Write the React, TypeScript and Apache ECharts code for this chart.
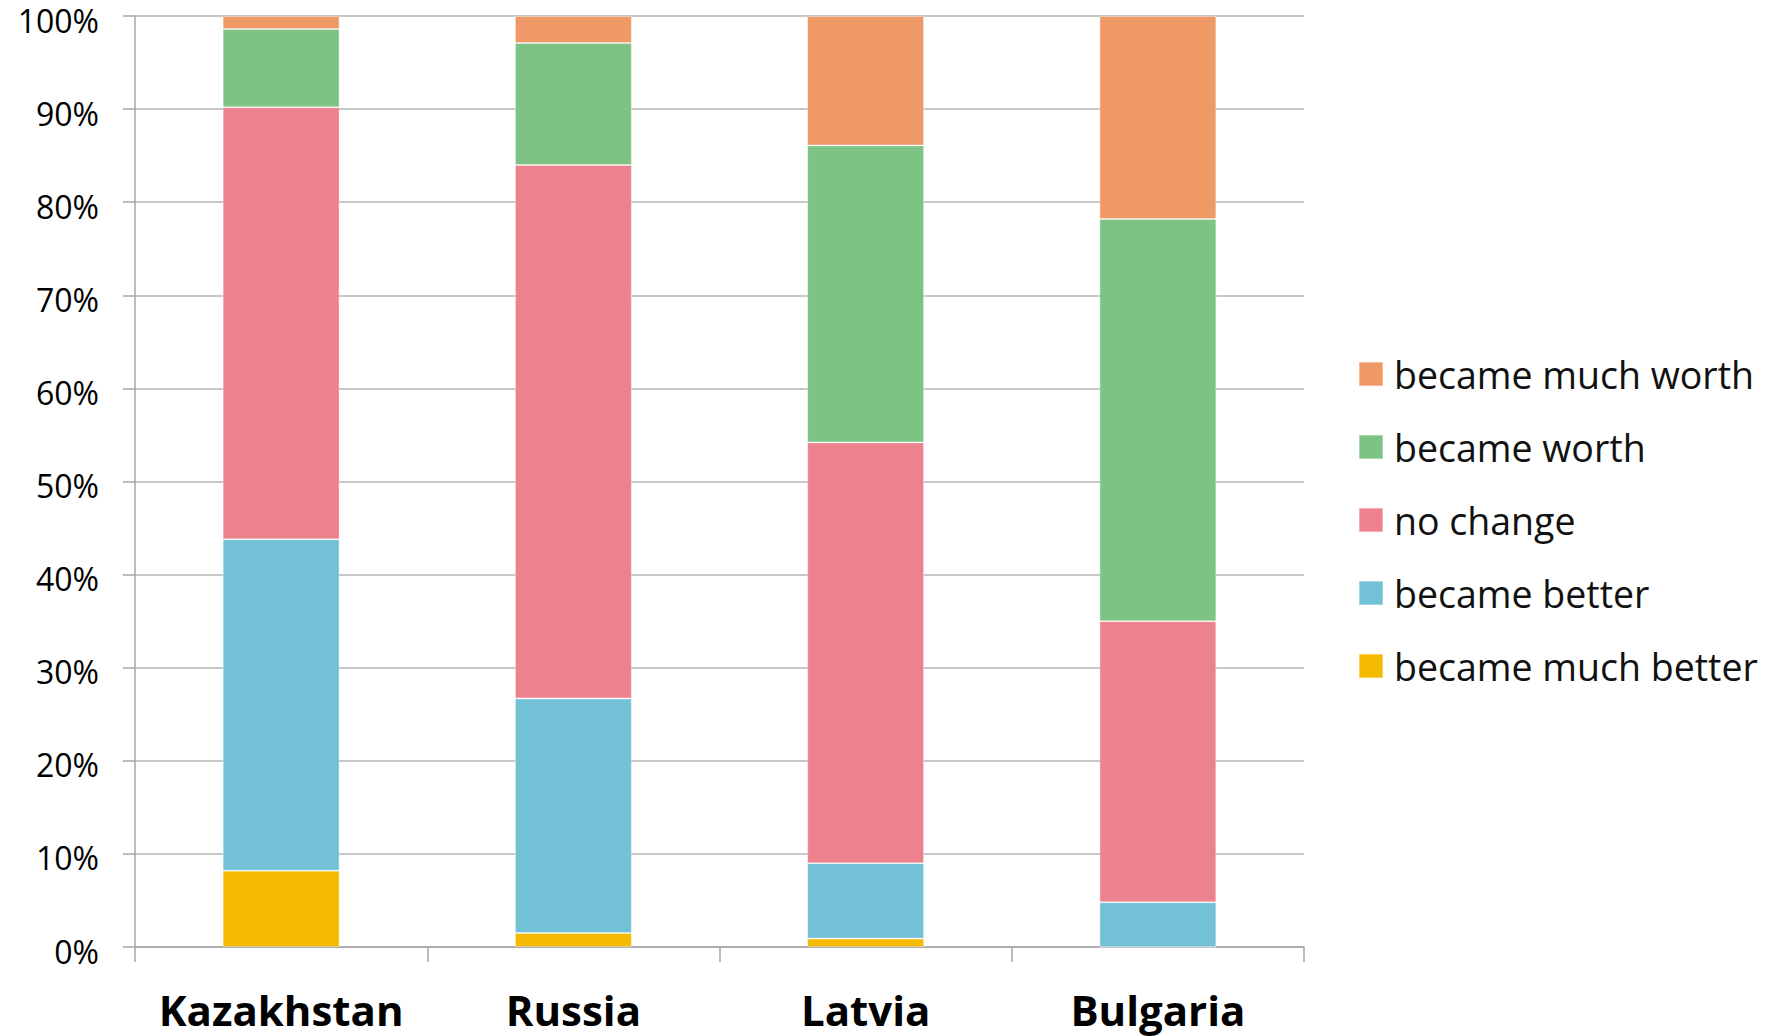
import React, { useEffect, useRef } from "react";
import * as echarts from "echarts";

const categories = ["Kazakhstan", "Russia", "Latvia", "Bulgaria"];
const seriesNames = ["became much better", "became better", "no change", "became worth", "became much worth"];
const muchBetter = [8.2, 1.5, 0.9, 0];
const better = [35.6, 25.2, 8.1, 4.8];
const noChange = [46.4, 57.3, 45.2, 30.2];
const worth = [8.4, 13.1, 31.9, 43.2];
const muchWorth = [1.4, 2.9, 13.9, 21.8];
const seriesValues = [muchBetter, better, noChange, worth, muchWorth];
const colors = ["#F4BA00", "#72C1D7", "#EC828E", "#7DC383", "#EE9966"];
const legendOrder = ["became much worth", "became worth", "no change", "became better", "became much better"];

const FONT = "'Open Sans', 'Noto Sans', sans-serif";

export default function App() {
  const ref = useRef<HTMLDivElement>(null);
  useEffect(() => {
    if (!ref.current) return;
    const chart = echarts.init(ref.current, null, { renderer: "svg" });
    chart.setOption({
      animation: false,
      backgroundColor: "#ffffff",
      grid: { left: 135, right: 471, top: 16, bottom: 89, containLabel: false, outerBoundsMode: "none" },
      legend: {
        orient: "vertical",
        left: 1358,
        top: 355,
        padding: 0,
        data: legendOrder,
        itemWidth: 24,
        itemHeight: 24,
        itemGap: 35,
        icon: "rect",
        selectedMode: false,
        textStyle: { fontFamily: FONT, fontSize: 37.5, color: "#111", lineHeight: 36, padding: [0, 0, 0, 6] },
      },
      xAxis: {
        type: "category",
        data: categories,
        axisLine: { show: true, lineStyle: { color: "#A6A6A6", width: 1.5 } },
        axisTick: { show: true, length: 15, lineStyle: { color: "#A6A6A6", width: 1.5 } },
        axisLabel: { interval: 0, fontFamily: FONT, fontSize: 42, fontWeight: "bold", color: "#000", margin: 41 },
      },
      yAxis: {
        type: "value",
        min: 0,
        max: 100,
        interval: 10,
        axisLine: { show: true, lineStyle: { color: "#A6A6A6", width: 1.5 } },
        axisTick: { show: true, length: 12, lineStyle: { color: "#A6A6A6", width: 1.5 } },
        splitLine: { show: true, lineStyle: { color: "#B4B4B4", width: 1.5 } },
        axisLabel: {
          fontFamily: FONT,
          fontSize: 32,
          lineHeight: 8,
          verticalAlign: "top",
          color: "#000",
          margin: 36,
          formatter: "{value}%",
        },
      },
      series: seriesNames.map((name, i) => ({
        name,
        type: "bar",
        stack: "total",
        barWidth: "40%",
        data: seriesValues[i],
        itemStyle: { color: colors[i], borderColor: "rgba(255,255,255,0.35)", borderWidth: 1 },
      })),
    });
    return () => chart.dispose();
  }, []);
  return <div ref={ref} style={{ position: "fixed", left: 0, top: 0, width: 1775, height: 1036 }} />;
}
